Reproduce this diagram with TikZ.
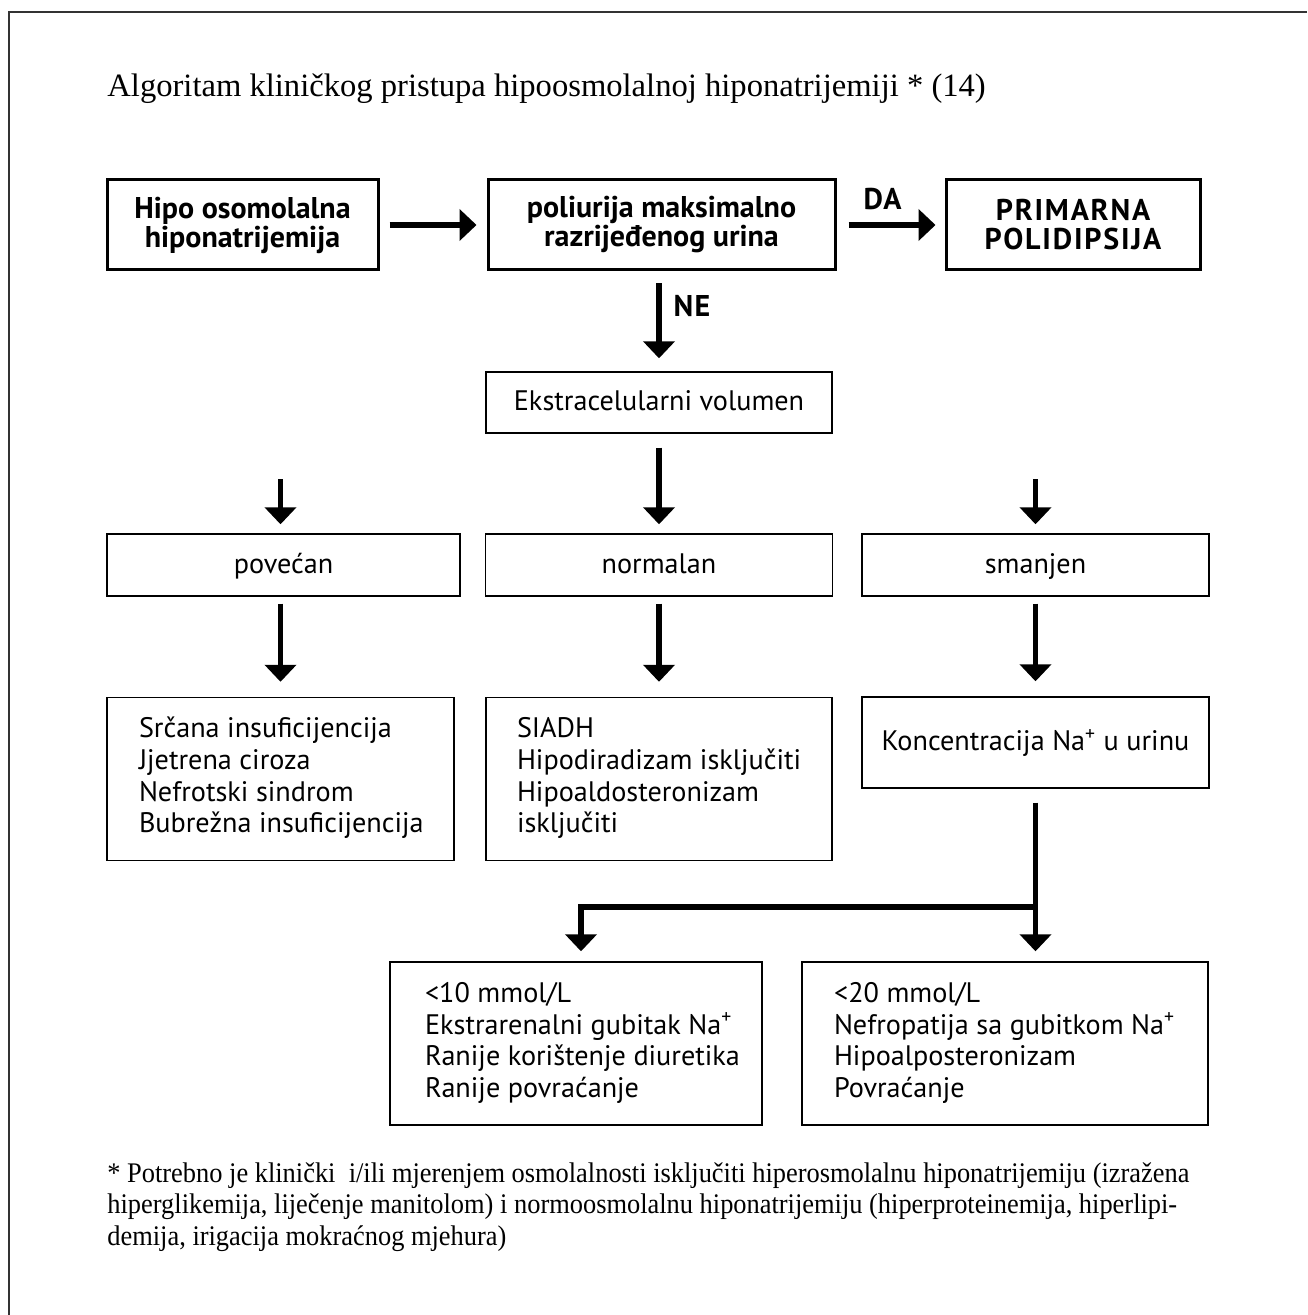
\documentclass[tikz,border=0pt]{standalone}
\usepackage{fontspec}
\setmainfont{Liberation Serif}
\newfontfamily\boxfont{PT Sans}
\newfontfamily\notefont[FakeStretch=0.93]{Liberation Serif}
\usetikzlibrary{arrows.meta,calc}
\newcommand\lbox[2]{\makebox[#1][l]{\begin{tabular}{@{}l@{}}#2\end{tabular}}}
\begin{document}
\begin{tikzpicture}[x=0.5pt,y=-0.5pt,
  frameline/.style={line width=1pt, draw=black!80},
  thickbox/.style={draw, line width=1.5pt, inner sep=0pt, align=center,
    minimum height=45pt, font=\boxfont\bfseries\fontsize{15}{14.5}\selectfont},
  thinbox/.style={draw, line width=0.7pt, inner sep=0pt, align=center,
    font=\boxfont\fontsize{14.1}{15.8}\selectfont},
  onebox/.style={thinbox, text height=11pt, text depth=3pt},
  arr/.style={line width=2.65pt, -{Triangle[width=15.5pt,length=8.5pt]}},
  lbl/.style={font=\boxfont\bfseries\fontsize{15}{15}\selectfont\addfontfeature{LetterSpace=4}, inner sep=0pt}
]
\useasboundingbox (0,0) rectangle (1307,1315);
\draw[frameline] (1307,12) -- (8.5,12) -- (8.5,1315);

\node[anchor=base west, inner sep=0pt, font=\fontsize{16.3}{19}\selectfont] (title) at (107,97)
  {Algoritam kliničkog pristupa hipoosmolalnoj hiponatrijemiji * (14)};

% top row
\node[thickbox, minimum width=135.5pt] (A) at (242.5,225) {Hipo osomolalna\\hiponatrijemija};
\node[thickbox, minimum width=173.5pt] (B) at (661.5,225) {poliurija maksimalno\\razrijeđenog urina};
\node[thickbox, minimum width=127pt] (C) at (1073,225)
  {\addfontfeature{LetterSpace=6}PRIMARNA\\\addfontfeature{LetterSpace=6}POLIDIPSIJA};

\draw[arr, shorten <=5pt, shorten >=5pt] (A) -- (B);
\draw[arr, shorten <=6pt, shorten >=4.5pt] (B) -- node[lbl, above=6.5pt, xshift=-4pt] (da) {DA} (C);

% second level
\node[onebox, minimum width=173pt, minimum height=30.5pt] (D) at (659,402.5) {Ekstracelularni volumen};
\draw[arr, shorten <=6pt, shorten >=6.5pt] (B.south -| D) -- node[lbl, right=6pt, pos=0.35] (ne) {NE} (D.north);

% third level
\node[onebox, minimum width=176.5pt, minimum height=31pt] (E) at (283.5,565) {povećan};
\node[onebox, minimum width=173.5pt, minimum height=31pt] (F) at (659,565) {normalan};
\node[onebox, minimum width=173.5pt, minimum height=31pt] (G) at (1035.5,565) {smanjen};

% fourth level
\node[thinbox, minimum width=173.5pt, minimum height=81.5pt] (H) at (280.5,779)
  {\hspace*{16pt}\lbox{141.5pt}{Srčana insuficijencija\\Jjetrena ciroza\\Nefrotski sindrom\\Bubrežna insuficijencija}\hspace*{16pt}};
\node[thinbox, minimum width=173pt, minimum height=81.5pt] (I) at (659,779)
  {\hspace*{15.5pt}\lbox{142pt}{SIADH\\Hipodiradizam isključiti\\Hipoaldosteronizam\\isključiti}\hspace*{15.5pt}};
\node[onebox, minimum width=173.5pt, minimum height=45.5pt] (J) at (1035.5,742.5)
  {Koncentracija Na\textsuperscript{+} u urinu};

% arrows into and out of the third level
\draw[arr, shorten >=4.5pt] ($(E.north -| H)+(0,-54)$) -- (E.north -| H);
\draw[arr, shorten <=7pt, shorten >=4.5pt] (D.south) -- (F.north -| D.south);
\draw[arr, shorten >=4.5pt] ($(G.north)+(0,-54)$) -- (G.north);

\draw[arr, shorten <=3.5pt, shorten >=7.5pt] (E.south -| H) -- (H.north);
\draw[arr, shorten <=3.5pt, shorten >=7.5pt] (F.south) -- (I.north -| F.south);
\draw[arr, shorten <=3.5pt, shorten >=7.5pt] (G.south) -- (J.north -| G.south);

% bottom level
\node[thinbox, minimum width=186pt, minimum height=81.5pt] (K) at (576,1043.5)
  {\hspace*{17.5pt}\lbox{151pt}{<10 mmol/L\\Ekstrarenalni gubitak Na\textsuperscript{+}\\Ranije korištenje diuretika\\Ranije povraćanje}\hspace*{17.5pt}};
\node[thinbox, minimum width=203pt, minimum height=81.5pt] (L) at (1005,1043.5)
  {\hspace*{16pt}\lbox{171pt}{<20 mmol/L\\Nefropatija sa gubitkom Na\textsuperscript{+}\\Hipoalposteronizam\\Povraćanje}\hspace*{16pt}};

\coordinate (jn) at (1035.5,907);
\coordinate (kn) at (581,907);
\draw[arr, shorten <=7pt, shorten >=5pt] (J.south) -- (L.north -| J.south);
\draw[arr, shorten >=5pt] ([xshift=0.66pt]jn) -- (kn) -- (K.north -| kn);

% footnote
\node[anchor=north west, inner sep=0pt, align=left,
  font=\notefont\fontsize{14.2}{15.75}\selectfont] (note) at (107,1162)
  {* Potrebno je klinički\ \ i/ili mjerenjem osmolalnosti isključiti hiperosmolalnu hiponatrijemiju (izražena\\
   hiperglikemija, liječenje manitolom) i normoosmolalnu hiponatrijemiju (hiperproteinemija, hiperlipi-\\
   demija, irigacija mokraćnog mjehura)};
\end{tikzpicture}
\end{document}
